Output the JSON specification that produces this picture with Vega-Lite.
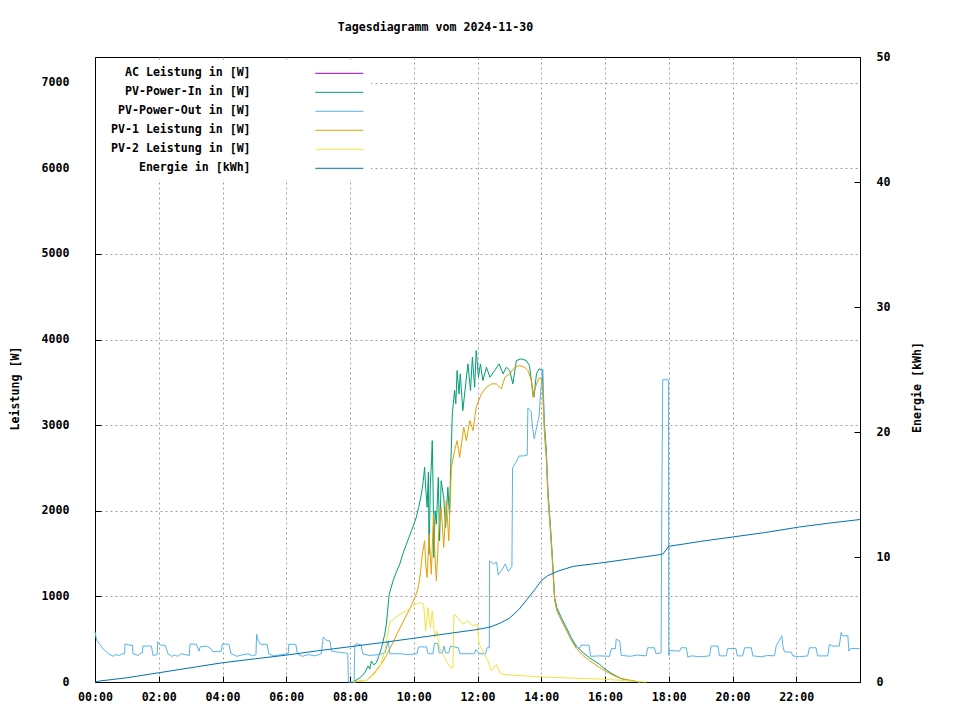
{
"$schema": "https://vega.github.io/schema/vega-lite/v6.json",
"width": 765, "height": 625,
"autosize": {"type": "none"},
"padding": {"left": 95, "top": 57, "right": 100, "bottom": 38},
"background": "white",
"title": {"text": "Tagesdiagramm vom 2024-11-30", "anchor": "middle", "dx": -42, "offset": 17, "font": "DejaVu Sans Mono", "fontSize": 11.6, "fontWeight": "bold", "color": "black"},
"config": {
 "view": {"stroke": "black", "strokeWidth": 1},
 "font": "DejaVu Sans Mono",
 "axis": {"labelFont": "DejaVu Sans Mono", "labelFontSize": 11.6, "labelFontWeight": "bold", "labelColor": "black", "titleFont": "DejaVu Sans Mono", "titleFontSize": 11.6, "titleFontWeight": "bold", "titleColor": "black", "domainColor": "black", "tickColor": "black", "gridColor": "#a0a0a0", "gridDash": [2, 3], "tickSize": -6}
},
"datasets": {
"pvout": [
{"t":0,"v":590},{"t":0.05,"v":490},{"t":0.15,"v":440},{"t":0.26,"v":385},{"t":0.42,"v":330},{"t":0.5,"v":315},{"t":0.57,"v":300},{"t":0.66,"v":320},{"t":0.75,"v":310},{"t":0.88,"v":330},{"t":0.93,"v":330},{"t":0.94,"v":445},{"t":1.1,"v":430},{"t":1.18,"v":430},{"t":1.19,"v":330},{"t":1.35,"v":310},{"t":1.45,"v":340},{"t":1.49,"v":340},{"t":1.5,"v":420},{"t":1.77,"v":420},{"t":1.82,"v":310},{"t":1.95,"v":320},{"t":1.97,"v":470},{"t":2.05,"v":430},{"t":2.2,"v":430},{"t":2.29,"v":330},{"t":2.4,"v":300},{"t":2.5,"v":315},{"t":2.6,"v":300},{"t":2.7,"v":330},{"t":2.96,"v":310},{"t":2.98,"v":445},{"t":3.18,"v":440},{"t":3.26,"v":360},{"t":3.3,"v":410},{"t":3.5,"v":420},{"t":3.6,"v":400},{"t":3.7,"v":355},{"t":3.95,"v":355},{"t":4.0,"v":445},{"t":4.2,"v":440},{"t":4.27,"v":330},{"t":4.45,"v":300},{"t":4.6,"v":315},{"t":4.8,"v":330},{"t":4.95,"v":305},{"t":5.05,"v":320},{"t":5.07,"v":560},{"t":5.12,"v":480},{"t":5.2,"v":440},{"t":5.4,"v":440},{"t":5.45,"v":330},{"t":5.6,"v":305},{"t":5.85,"v":320},{"t":6.06,"v":330},{"t":6.08,"v":440},{"t":6.3,"v":440},{"t":6.35,"v":330},{"t":6.5,"v":300},{"t":6.7,"v":320},{"t":6.9,"v":305},{"t":7.1,"v":330},{"t":7.16,"v":525},{"t":7.25,"v":490},{"t":7.37,"v":480},{"t":7.42,"v":360},{"t":7.6,"v":350},{"t":7.85,"v":340},{"t":7.93,"v":330},{"t":7.95,"v":0},{"t":8.13,"v":0},{"t":8.15,"v":420},{"t":8.2,"v":450},{"t":8.35,"v":430},{"t":8.4,"v":330},{"t":8.6,"v":310},{"t":8.9,"v":320},{"t":9.1,"v":340},{"t":9.2,"v":480},{"t":9.25,"v":330},{"t":9.6,"v":330},{"t":9.8,"v":320},{"t":10.1,"v":330},{"t":10.15,"v":410},{"t":10.4,"v":410},{"t":10.45,"v":330},{"t":10.6,"v":330},{"t":10.65,"v":450},{"t":10.75,"v":450},{"t":10.8,"v":340},{"t":10.9,"v":340},{"t":10.95,"v":420},{"t":11.0,"v":340},{"t":11.1,"v":340},{"t":11.15,"v":420},{"t":11.4,"v":400},{"t":11.45,"v":330},{"t":11.9,"v":330},{"t":11.95,"v":380},{"t":12.05,"v":330},{"t":12.25,"v":330},{"t":12.3,"v":400},{"t":12.37,"v":400},{"t":12.38,"v":1415},{"t":12.5,"v":1380},{"t":12.6,"v":1400},{"t":12.65,"v":1250},{"t":12.75,"v":1300},{"t":12.87,"v":1380},{"t":12.97,"v":1290},{"t":13.08,"v":1350},{"t":13.1,"v":2500},{"t":13.2,"v":2560},{"t":13.3,"v":2640},{"t":13.45,"v":2640},{"t":13.56,"v":2650},{"t":13.58,"v":3200},{"t":13.68,"v":3160},{"t":13.73,"v":2960},{"t":13.78,"v":2840},{"t":13.88,"v":3020},{"t":13.93,"v":3100},{"t":14.0,"v":3480},{"t":14.05,"v":3650},{"t":14.1,"v":2950},{"t":14.16,"v":2650},{"t":14.21,"v":2200},{"t":14.29,"v":1780},{"t":14.35,"v":1430},{"t":14.42,"v":970},{"t":14.49,"v":850},{"t":14.63,"v":740},{"t":14.79,"v":620},{"t":14.94,"v":510},{"t":15.05,"v":420},{"t":15.2,"v":390},{"t":15.25,"v":430},{"t":15.5,"v":430},{"t":15.55,"v":300},{"t":15.83,"v":305},{"t":16.14,"v":300},{"t":16.2,"v":390},{"t":16.33,"v":390},{"t":16.35,"v":500},{"t":16.46,"v":480},{"t":16.51,"v":310},{"t":16.8,"v":300},{"t":17.0,"v":315},{"t":17.29,"v":305},{"t":17.34,"v":400},{"t":17.55,"v":400},{"t":17.6,"v":330},{"t":17.76,"v":340},{"t":17.78,"v":1920},{"t":17.81,"v":3530},{"t":17.99,"v":3530},{"t":18.0,"v":310},{"t":18.02,"v":370},{"t":18.34,"v":360},{"t":18.39,"v":400},{"t":18.55,"v":400},{"t":18.6,"v":290},{"t":18.7,"v":305},{"t":19.0,"v":295},{"t":19.28,"v":305},{"t":19.33,"v":420},{"t":19.54,"v":420},{"t":19.59,"v":305},{"t":19.8,"v":305},{"t":19.85,"v":390},{"t":20.11,"v":390},{"t":20.15,"v":305},{"t":20.32,"v":305},{"t":20.38,"v":400},{"t":20.59,"v":400},{"t":20.64,"v":305},{"t":20.9,"v":295},{"t":21.1,"v":310},{"t":21.32,"v":305},{"t":21.37,"v":420},{"t":21.55,"v":540},{"t":21.58,"v":420},{"t":21.63,"v":350},{"t":21.84,"v":350},{"t":21.89,"v":305},{"t":22.1,"v":295},{"t":22.36,"v":305},{"t":22.41,"v":400},{"t":22.62,"v":400},{"t":22.67,"v":305},{"t":22.99,"v":305},{"t":23.04,"v":440},{"t":23.14,"v":420},{"t":23.35,"v":420},{"t":23.41,"v":580},{"t":23.45,"v":540},{"t":23.62,"v":540},{"t":23.65,"v":360},{"t":23.7,"v":390},{"t":23.98,"v":390},{"t":24,"v":380}
],
"pvin": [
{"t":8.1,"v":0},{"t":8.31,"v":50},{"t":8.45,"v":100},{"t":8.57,"v":187},{"t":8.62,"v":150},{"t":8.67,"v":245},{"t":8.75,"v":200},{"t":8.83,"v":226},{"t":8.9,"v":300},{"t":8.99,"v":400},{"t":9.09,"v":557},{"t":9.14,"v":675},{"t":9.23,"v":1025},{"t":9.35,"v":1181},{"t":9.45,"v":1280},{"t":9.56,"v":1376},{"t":9.66,"v":1500},{"t":9.77,"v":1610},{"t":9.85,"v":1690},{"t":9.93,"v":1766},{"t":10.0,"v":1840},{"t":10.08,"v":1922},{"t":10.16,"v":2050},{"t":10.24,"v":2195},{"t":10.3,"v":2350},{"t":10.34,"v":2507},{"t":10.37,"v":2300},{"t":10.42,"v":2040},{"t":10.46,"v":2450},{"t":10.48,"v":1493},{"t":10.52,"v":2312},{"t":10.56,"v":2600},{"t":10.58,"v":2819},{"t":10.61,"v":2200},{"t":10.63,"v":1454},{"t":10.67,"v":2000},{"t":10.71,"v":1844},{"t":10.77,"v":2390},{"t":10.81,"v":1649},{"t":10.86,"v":2351},{"t":10.94,"v":2156},{"t":11.0,"v":1805},{"t":11.07,"v":2273},{"t":11.12,"v":1961},{"t":11.16,"v":2507},{"t":11.21,"v":3131},{"t":11.28,"v":3404},{"t":11.32,"v":3250},{"t":11.36,"v":3638},{"t":11.42,"v":3365},{"t":11.46,"v":3599},{"t":11.54,"v":3170},{"t":11.63,"v":3482},{"t":11.7,"v":3716},{"t":11.78,"v":3404},{"t":11.84,"v":3794},{"t":11.91,"v":3443},{"t":11.96,"v":3872},{"t":12.03,"v":3560},{"t":12.09,"v":3716},{"t":12.17,"v":3521},{"t":12.28,"v":3677},{"t":12.39,"v":3560},{"t":12.54,"v":3638},{"t":12.68,"v":3716},{"t":12.8,"v":3599},{"t":12.91,"v":3677},{"t":13.01,"v":3638},{"t":13.11,"v":3482},{"t":13.22,"v":3755},{"t":13.37,"v":3774},{"t":13.53,"v":3755},{"t":13.63,"v":3696},{"t":13.72,"v":3443},{"t":13.77,"v":3326},{"t":13.85,"v":3599},{"t":13.93,"v":3657},{"t":14.03,"v":3638},{"t":14.1,"v":3000},{"t":14.16,"v":2700},{"t":14.21,"v":2234},{"t":14.29,"v":1805},{"t":14.35,"v":1454},{"t":14.42,"v":986},{"t":14.49,"v":869},{"t":14.63,"v":752},{"t":14.79,"v":635},{"t":14.94,"v":518},{"t":15.1,"v":420},{"t":15.31,"v":343},{"t":15.51,"v":284},{"t":15.83,"v":206},{"t":16.0,"v":150},{"t":16.25,"v":90},{"t":16.5,"v":40},{"t":16.8,"v":15},{"t":17.1,"v":0}
],
"pv1": [
{"t":8.1,"v":0},{"t":8.52,"v":20},{"t":8.7,"v":80},{"t":8.83,"v":140},{"t":9.0,"v":220},{"t":9.14,"v":310},{"t":9.35,"v":460},{"t":9.5,"v":580},{"t":9.66,"v":700},{"t":9.8,"v":800},{"t":9.93,"v":900},{"t":10.05,"v":1000},{"t":10.14,"v":1100},{"t":10.2,"v":1250},{"t":10.27,"v":1493},{"t":10.34,"v":1650},{"t":10.38,"v":1350},{"t":10.42,"v":1220},{"t":10.48,"v":1727},{"t":10.55,"v":1259},{"t":10.62,"v":1961},{"t":10.66,"v":1500},{"t":10.71,"v":1181},{"t":10.79,"v":1805},{"t":10.86,"v":2040},{"t":10.94,"v":1571},{"t":11.02,"v":2117},{"t":11.1,"v":1649},{"t":11.18,"v":2507},{"t":11.28,"v":2702},{"t":11.36,"v":2819},{"t":11.44,"v":2624},{"t":11.57,"v":2975},{"t":11.65,"v":2819},{"t":11.76,"v":3053},{"t":11.86,"v":2936},{"t":11.96,"v":3209},{"t":12.12,"v":3365},{"t":12.28,"v":3443},{"t":12.44,"v":3482},{"t":12.59,"v":3482},{"t":12.75,"v":3424},{"t":12.86,"v":3560},{"t":13.01,"v":3599},{"t":13.17,"v":3677},{"t":13.32,"v":3696},{"t":13.48,"v":3677},{"t":13.58,"v":3638},{"t":13.69,"v":3521},{"t":13.74,"v":3326},{"t":13.85,"v":3482},{"t":13.95,"v":3560},{"t":14.03,"v":3521},{"t":14.1,"v":2900},{"t":14.16,"v":2600},{"t":14.21,"v":2150},{"t":14.29,"v":1750},{"t":14.35,"v":1400},{"t":14.42,"v":950},{"t":14.49,"v":830},{"t":14.63,"v":720},{"t":14.79,"v":600},{"t":14.94,"v":490},{"t":15.1,"v":390},{"t":15.31,"v":310},{"t":15.51,"v":250},{"t":15.83,"v":170},{"t":16.0,"v":130},{"t":16.25,"v":80},{"t":16.5,"v":40},{"t":16.8,"v":20},{"t":17.1,"v":0}
],
"pv2": [
{"t":8.1,"v":0},{"t":8.52,"v":20},{"t":8.73,"v":80},{"t":8.94,"v":180},{"t":9.09,"v":360},{"t":9.2,"v":595},{"t":9.25,"v":700},{"t":9.41,"v":750},{"t":9.56,"v":790},{"t":9.77,"v":830},{"t":9.98,"v":890},{"t":10.19,"v":930},{"t":10.31,"v":910},{"t":10.37,"v":595},{"t":10.45,"v":870},{"t":10.52,"v":635},{"t":10.58,"v":830},{"t":10.66,"v":520},{"t":10.73,"v":595},{"t":10.81,"v":400},{"t":10.97,"v":285},{"t":11.12,"v":180},{"t":11.23,"v":165},{"t":11.26,"v":790},{"t":11.39,"v":750},{"t":11.54,"v":675},{"t":11.7,"v":715},{"t":11.86,"v":655},{"t":11.99,"v":675},{"t":12.05,"v":440},{"t":12.17,"v":360},{"t":12.33,"v":245},{"t":12.44,"v":130},{"t":12.59,"v":205},{"t":12.7,"v":110},{"t":12.8,"v":90},{"t":13.11,"v":80},{"t":13.95,"v":60},{"t":15.0,"v":45},{"t":15.83,"v":35},{"t":16.5,"v":20},{"t":17.0,"v":5},{"t":17.3,"v":0}
],
"energie": [
{"t":0,"v":0},{"t":0.15,"v":0.08},{"t":1,"v":0.34},{"t":2,"v":0.74},{"t":3,"v":1.14},{"t":4,"v":1.54},{"t":5,"v":1.85},{"t":6,"v":2.15},{"t":7,"v":2.5},{"t":7.93,"v":2.8},{"t":9,"v":3.15},{"t":10,"v":3.5},{"t":11,"v":3.85},{"t":12,"v":4.2},{"t":12.4,"v":4.4},{"t":12.7,"v":4.7},{"t":13,"v":5.1},{"t":13.3,"v":5.8},{"t":13.55,"v":6.6},{"t":13.8,"v":7.4},{"t":14,"v":8.1},{"t":14.2,"v":8.5},{"t":14.5,"v":8.85},{"t":15,"v":9.25},{"t":15.8,"v":9.5},{"t":16.5,"v":9.75},{"t":17.2,"v":10.0},{"t":17.76,"v":10.2},{"t":17.82,"v":10.25},{"t":18.0,"v":10.86},{"t":18.5,"v":11.05},{"t":19,"v":11.25},{"t":20,"v":11.6},{"t":21,"v":11.95},{"t":22.1,"v":12.4},{"t":23,"v":12.7},{"t":24,"v":13.0}
]
},
"layer": [
{"layer": [
 {"data": {"name": "pvin"}, "mark": {"type": "line", "strokeWidth": 1},
  "encoding": {
   "x": {"field": "t", "type": "quantitative", "scale": {"domain": [0, 24], "nice": false},
     "axis": {"title": null, "values": [0,1,2,3,4,5,6,7,8,9,10,11,12,13,14,15,16,17,18,19,20,21,22,23],
       "labelExpr": "datum.value % 2 ? '' : (datum.value < 10 ? '0' : '') + datum.value + ':00'",
       "labelOverlap": false, "labelFlush": false, "labelPadding": 15, "labelDx": -8,
       "gridOpacity": {"condition": {"test": "datum.value % 2 === 1", "value": 0}, "value": 1}}},
   "y": {"field": "v", "type": "quantitative", "scale": {"domain": [0, 7300], "nice": false},
     "axis": {"title": "Leistung [W]", "format": "d", "values": [0,1000,2000,3000,4000,5000,6000,7000], "labelPadding": 32,
       "titleX": -80, "titleY": 331, "titleAngle": 270, "titleBaseline": "middle", "titleAlign": "center"}},
   "color": {"datum": "PV-Power-In in [W]", "type": "nominal",
     "scale": {"domain": ["AC Leistung in [W]", "PV-Power-In in [W]", "PV-Power-Out in [W]", "PV-1 Leistung in [W]", "PV-2 Leistung in [W]", "Energie in [kWh]"],
               "range": ["#9400d3", "#009e73", "#56b4e9", "#e69f00", "#f0e442", "#0072b2"]},
     "legend": {"orient": "none", "legendX": 1, "legendY": 5.5, "title": null, "fillColor": "white", "padding": 5,
       "symbolType": "M-4.8,0L4.8,0", "symbolSize": 100, "symbolStrokeWidth": 1, "symbolOffset": 232.5,
       "labelOffset": -94.5, "labelAlign": "right", "rowPadding": 6,
       "labelFont": "DejaVu Sans Mono", "labelFontSize": 11.6, "labelFontWeight": "bold", "labelColor": "black", "labelLimit": 300}}
  }},
 {"data": {"name": "pvout"}, "mark": {"type": "line", "strokeWidth": 1},
  "encoding": {"x": {"field": "t", "type": "quantitative", "scale": {"domain": [0, 24], "nice": false}},
   "y": {"field": "v", "type": "quantitative", "scale": {"domain": [0, 7300], "nice": false}},
   "color": {"datum": "PV-Power-Out in [W]", "type": "nominal"}}},
 {"data": {"name": "pv1"}, "mark": {"type": "line", "strokeWidth": 1},
  "encoding": {"x": {"field": "t", "type": "quantitative", "scale": {"domain": [0, 24], "nice": false}},
   "y": {"field": "v", "type": "quantitative", "scale": {"domain": [0, 7300], "nice": false}},
   "color": {"datum": "PV-1 Leistung in [W]", "type": "nominal"}}},
 {"data": {"name": "pv2"}, "mark": {"type": "line", "strokeWidth": 1},
  "encoding": {"x": {"field": "t", "type": "quantitative", "scale": {"domain": [0, 24], "nice": false}},
   "y": {"field": "v", "type": "quantitative", "scale": {"domain": [0, 7300], "nice": false}},
   "color": {"datum": "PV-2 Leistung in [W]", "type": "nominal"}}}
]},
{"data": {"name": "energie"}, "mark": {"type": "line", "strokeWidth": 1},
 "encoding": {"x": {"field": "t", "type": "quantitative", "scale": {"domain": [0, 24], "nice": false}},
  "y": {"field": "v", "type": "quantitative", "scale": {"domain": [0, 50], "nice": false},
    "axis": {"orient": "right", "title": "Energie [kWh]", "values": [0,10,20,30,40,50], "grid": false, "labelPadding": 22,
      "titleX": 57.5, "titleY": 330, "titleAngle": 270, "titleBaseline": "middle", "titleAlign": "center"}},
  "color": {"datum": "Energie in [kWh]", "type": "nominal"}}}
],
"resolve": {"scale": {"y": "independent"}}
}
